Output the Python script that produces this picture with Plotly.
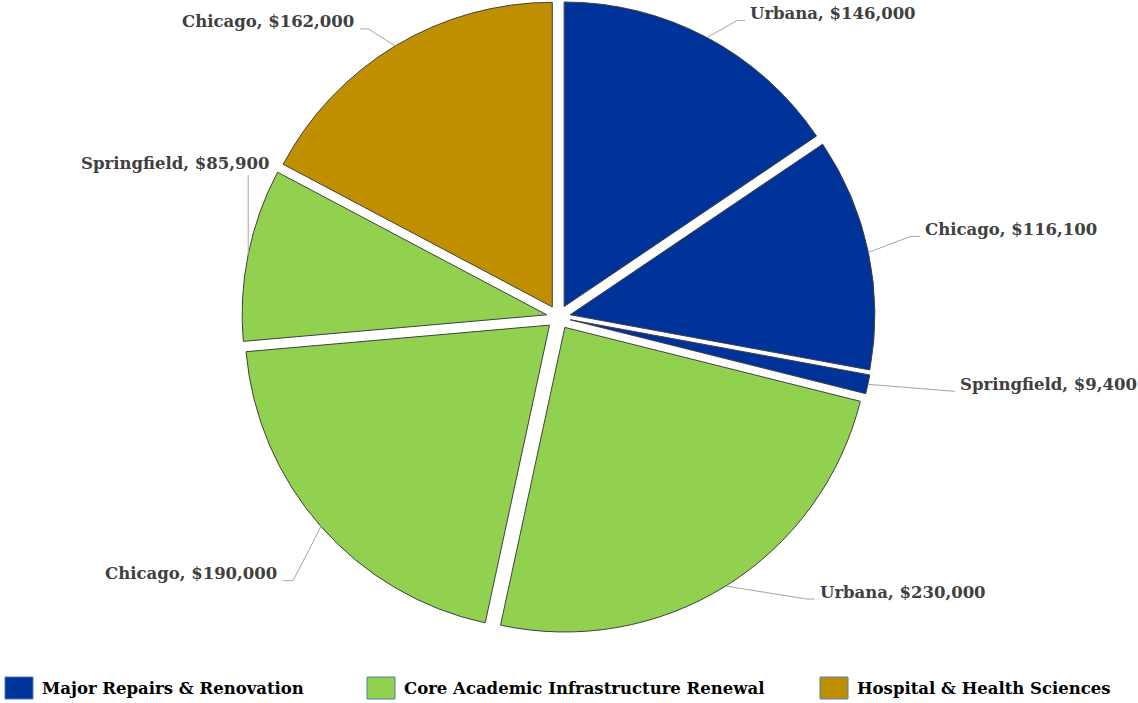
import math
import plotly.graph_objects as go

# Capital request by program and campus (USD thousands as shown)
programs = [
    "Major Repairs & Renovation",
    "Core Academic Infrastructure Renewal",
    "Hospital & Health Sciences",
]
program_colors = ["#003399", "#92D050", "#BF8F00"]

campuses = ["Urbana", "Chicago", "Springfield", "Urbana", "Chicago", "Springfield", "Chicago"]
slice_program = [0, 0, 0, 1, 1, 1, 2]
values = [146000, 116100, 9400, 230000, 190000, 85900, 162000]

# ---- geometry (pixels) ----
W, H = 1138, 703
CX, CY = 558.5, 317.2      # pie centre
R = 304.6                  # pie radius
PULL = 0.0394              # explode fraction of radius

box = 2 * R * (1 + PULL)
dom_y = [1 - (CY + box / 2) / H, 1 - (CY - box / 2) / H]
dom_x = [(CX - 360) / W, (CX + 360) / W]

FONT = "DejaVu Serif"
FONT_SIZE = 16.5
LABEL_COLOR = "#404040"
LINE_COLOR = "#A6A6A6"


def px(x):
    return x / W


def py(y):
    return 1 - y / H


labels = [f"{programs[p]} - {c}" for p, c in zip(slice_program, campuses)]
texts = [f"{c}, ${v:,}" for c, v in zip(campuses, values)]

fig = go.Figure(
    go.Pie(
        labels=labels,
        values=values,
        sort=False,
        direction="clockwise",
        rotation=0,
        pull=[PULL] * len(values),
        marker=dict(
            colors=[program_colors[p] for p in slice_program],
            line=dict(color="#404040", width=1),
        ),
        textinfo="none",
        hovertext=texts,
        hoverinfo="text",
        showlegend=False,
        domain=dict(x=dom_x, y=dom_y),
    )
)

# Leader-line routing per slice: elbow offset from slice edge, horizontal run,
# label side and text placement
leaders = [
    dict(dx=30, dy=-17, run=8, side="left"),
    dict(dx=42, dy=-16, run=10, side="left"),
    dict(dx=87, dy=7, run=0, side="left"),
    dict(dx=81, dy=13, run=8, side="left"),
    dict(dx=-28, dy=54, run=-10, side="right"),
    dict(dx=0, dy=-79, run=0, side="above"),
    dict(dx=-27, dy=-17, run=-8, side="right"),
]

total = sum(values)
shapes = []
annotations = []
cum = 0.0
for v, txt, ld in zip(values, texts, leaders):
    mid = (cum + v / 2) / total * 2 * math.pi
    cum += v
    ux, uy = math.sin(mid), -math.cos(mid)
    ex = CX + ux * R * (1 + PULL)
    ey = CY + uy * R * (1 + PULL)
    bx, by = ex + ld["dx"], ey + ld["dy"]
    tx, ty = bx + ld["run"], by
    path = f"M {px(ex)},{py(ey)} L {px(bx)},{py(by)} L {px(tx)},{py(ty)}"
    shapes.append(dict(type="path", xref="paper", yref="paper", path=path,
                       line=dict(color=LINE_COLOR, width=1)))
    if ld["side"] == "left":
        ax, ay, xa = tx + 3, ty - 7, "left"
    elif ld["side"] == "right":
        ax, ay, xa = tx - 4, ty - 7, "right"
    else:
        ax, ay, xa = tx + 23, ty - 12, "right"
    annotations.append(dict(
        x=px(ax), y=py(ay), xref="paper", yref="paper",
        text=f"<b>{txt}</b>", showarrow=False, xanchor=xa, yanchor="middle",
        font=dict(family=FONT, size=FONT_SIZE, color=LABEL_COLOR),
    ))

# Legend row
legend_x = [5, 367, 820]
for name, color, lx in zip(programs, program_colors, legend_x):
    shapes.append(dict(type="rect", xref="paper", yref="paper",
                       x0=px(lx), x1=px(lx + 28), y0=py(699), y1=py(677),
                       fillcolor=color, line=dict(color="#4A7EBB", width=1)))
    annotations.append(dict(
        x=px(lx + 35), y=py(688), xref="paper", yref="paper",
        text=f"<b>{name}</b>", showarrow=False, xanchor="left", yanchor="middle",
        font=dict(family=FONT, size=FONT_SIZE, color="#000000"),
    ))

fig.update_layout(
    width=W, height=H,
    margin=dict(l=0, r=0, t=0, b=0),
    paper_bgcolor="white",
    plot_bgcolor="white",
    shapes=shapes,
    annotations=annotations,
)

fig.write_html("out.html")
